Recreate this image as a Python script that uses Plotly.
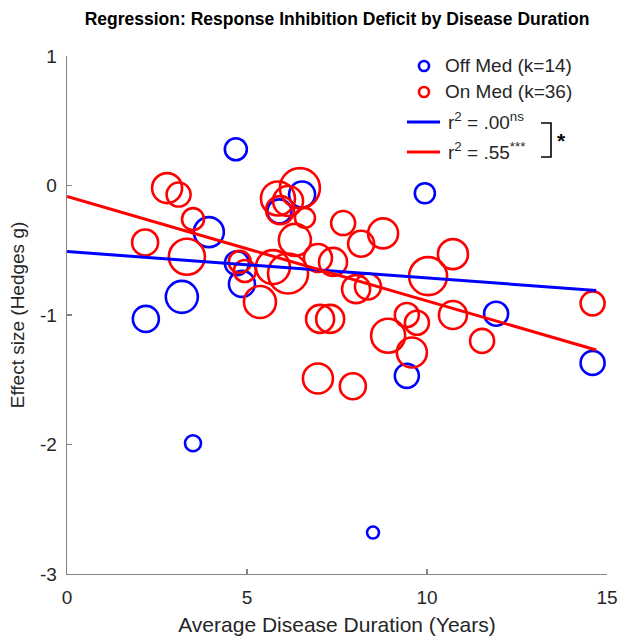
import plotly.graph_objects as go

# ---- data ----
off_x = [4.69, 9.94, 6.53, 5.90, 3.94, 4.72, 4.86, 3.19, 2.19, 3.50, 8.50, 11.92, 9.44, 14.60]
off_y = [0.28, -0.06, -0.07, -0.20, -0.36, -0.60, -0.76, -0.86, -1.03, -1.99, -2.68, -0.99, -1.47, -1.37]
off_r = [11, 10, 13, 12, 15, 12, 13, 16, 13, 8, 6, 12, 12, 12]

on_x = [2.78, 3.10, 3.50, 2.17, 3.33, 4.80, 4.94, 5.36, 5.72, 6.14, 6.33, 6.47,
        5.86, 5.92, 6.61, 6.97, 7.39, 7.03, 7.31, 7.67, 8.17, 8.78, 8.03, 8.36,
        10.03, 10.72, 9.44, 9.72, 8.92, 9.58, 10.72, 11.53, 14.60, 6.97, 7.94, 6.14]
on_y = [-0.02, -0.07, -0.26, -0.44, -0.55, -0.59, -0.66, -0.90, -0.63, -0.68, -0.42, -0.02,
        -0.10, -0.19, -0.25, -0.56, -0.59, -1.03, -1.03, -0.29, -0.45, -0.37, -0.80, -0.78,
        -0.70, -0.53, -1.00, -1.06, -1.16, -1.29, -1.00, -1.20, -0.91, -1.49, -1.55, -0.12]
on_r = [15, 12, 11, 13, 18, 11, 11, 16, 17, 20, 16, 20,
        17, 14, 10, 14, 14, 14, 14, 12, 13, 15, 14, 13,
        19, 15, 12, 12, 17, 15, 14, 12, 12, 15, 13, 15]

fit_x = [0, 14.7]
off_fit_y = [-0.51, -0.81]
on_fit_y = [-0.085, -1.27]

x_ticks = [0, 5, 10, 15]
x_tick_text = ["0", "5", "10", "15"]
y_ticks = [1, 0, -1, -2, -3]
y_tick_text = ["1", "0", "-1", "-2", "-3"]

title = "<b>Regression: Response Inhibition Deficit by Disease Duration</b>"
x_title = "Average Disease Duration (Years)"
y_title = "Effect size (Hedges g)"
legend_labels = ["Off Med (k=14)", "On Med (k=36)",
                 "r<sup>2</sup> = .00<sup>ns</sup>", "r<sup>2</sup> = .55<sup>***</sup>"]

BLUE = "#0000ff"
RED = "#ff0000"
FONT = "Arial, Liberation Sans, sans-serif"
AXC = "#858585"
TXT = "#262626"

W, H = 619, 638
X0, X1, Y0, Y1 = 67, 607, 56, 574  # plot area in page pixels
L, T = X0, Y0
R, B = W - X1, H - Y1
pw, ph = X1 - X0, Y1 - Y0


def px(xp):
    return (xp - X0) / pw


def py(yp):
    return (Y1 - yp) / ph


fig = go.Figure()
fig.add_trace(go.Scatter(x=off_x, y=off_y, mode="markers",
                         marker=dict(symbol="circle-open", size=[2 * r for r in off_r], opacity=1,
                                     color=BLUE, line=dict(width=2.6, color=BLUE)),
                         showlegend=False, hoverinfo="skip"))
fig.add_trace(go.Scatter(x=on_x, y=on_y, mode="markers",
                         marker=dict(symbol="circle-open", size=[2 * r for r in on_r], opacity=1,
                                     color=RED, line=dict(width=2.6, color=RED)),
                         showlegend=False, hoverinfo="skip"))
fig.add_trace(go.Scatter(x=fit_x, y=off_fit_y, mode="lines",
                         line=dict(color=BLUE, width=3), showlegend=False, hoverinfo="skip"))
fig.add_trace(go.Scatter(x=fit_x, y=on_fit_y, mode="lines",
                         line=dict(color=RED, width=3), showlegend=False, hoverinfo="skip"))

shapes = []
annotations = []
# legend markers
for yp, col in [(66, BLUE), (92, RED)]:
    shapes.append(dict(type="circle", xref="paper", yref="paper",
                       xsizemode="pixel", ysizemode="pixel",
                       xanchor=px(424), yanchor=py(yp), x0=-5, x1=5, y0=-5, y1=5,
                       line=dict(color=col, width=2.6)))
for yp, col in [(122, BLUE), (152, RED)]:
    shapes.append(dict(type="line", xref="paper", yref="paper",
                       x0=px(407), x1=px(440), y0=py(yp), y1=py(yp),
                       line=dict(color=col, width=3)))
for (xp, yp), txt in zip([(443, 66), (443, 92), (446, 121), (446, 151)], legend_labels):
    annotations.append(dict(text=txt, xref="paper", yref="paper", x=px(xp), y=py(yp),
                            xanchor="left", yanchor="middle", showarrow=False,
                            font=dict(family=FONT, size=19, color=TXT)))
# bracket
shapes.append(dict(type="path", xref="paper", yref="paper",
                   path=f"M {px(541)},{py(123)} L {px(551)},{py(123)} L {px(551)},{py(157)} L {px(541)},{py(157)}",
                   line=dict(color="#000", width=1.6)))
annotations.append(dict(text="<b>*</b>", xref="paper", yref="paper", x=px(555), y=py(140),
                        xanchor="left", yanchor="middle", showarrow=False,
                        font=dict(family=FONT, size=21, color="#000")))

fig.update_layout(
    width=W, height=H,
    margin=dict(l=L, r=R, t=T, b=B, pad=0, autoexpand=False),
    paper_bgcolor="white", plot_bgcolor="white",
    font=dict(family=FONT, color=TXT),
    title=dict(text=title, x=px(337), xref="paper", xanchor="center",
               y=1 - 19 / H, yref="container", yanchor="middle", automargin=False,
               font=dict(family=FONT, size=17.5, color="#000")),
    xaxis=dict(range=[0, 15], tickvals=x_ticks, ticktext=x_tick_text,
               ticks="inside", ticklen=5, tickcolor=AXC, tickwidth=1.3,
               showline=True, linecolor=AXC, linewidth=1.3, showgrid=False, zeroline=False,
               automargin=False, ticklabeloverflow="allow",
               tickfont=dict(family=FONT, size=19, color=TXT),
               title=dict(text=x_title, font=dict(family=FONT, size=21, color=TXT), standoff=10),
               ticklabelstandoff=6),
    yaxis=dict(range=[-3, 1], tickvals=y_ticks, ticktext=y_tick_text,
               ticks="inside", ticklen=5, tickcolor=AXC, tickwidth=1.3,
               showline=True, linecolor=AXC, linewidth=1.3, showgrid=False, zeroline=False,
               automargin=False,
               tickfont=dict(family=FONT, size=19, color=TXT),
               title=dict(text=y_title, font=dict(family=FONT, size=19, color=TXT), standoff=10),
               ticklabelstandoff=5),
    shapes=shapes, annotations=annotations,
)

fig.write_html("out.html", config={"displayModeBar": False, "staticPlot": True},
               post_script="document.body.style.margin='0';document.body.style.overflow='hidden';")
